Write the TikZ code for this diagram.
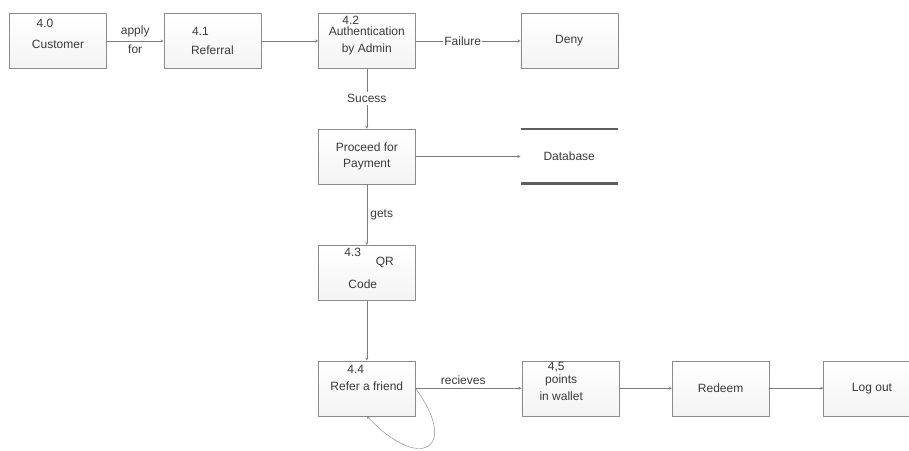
\documentclass[tikz,border=0pt]{standalone}
\usepackage{fontspec}
\setmainfont{Liberation Sans}
\usetikzlibrary{positioning}
\definecolor{boxline}{HTML}{8C8C8C}
\definecolor{txt}{HTML}{3A3A3A}
\definecolor{arr}{HTML}{7C7C7C}
\definecolor{store}{HTML}{5E5E5E}

\begin{document}
\begin{tikzpicture}[x=1pt, y=1pt, ->, >=stealth, color=arr, text=txt, font=\fontsize{12}{16}\selectfont, node distance=57pt,
	box/.style={draw=boxline, rectangle, top color=white, bottom color=gray!9, minimum width=97pt, minimum height=55pt, inner sep=0pt, align=center},
	num/.style={inner sep=0pt, align=center}]

	\useasboundingbox (0,0) rectangle (909,-450);

	% top row
	\node [box] (C) at (58,-41) {};
	\node [box] (R) [right=of C] {};
	\node [box, font=\fontsize{12}{17}\selectfont] (A) [right=of R] {Authentication\\by Admin};
	\node [box] (D) [right=105pt of A] {Deny};

	% middle column
	\node [box] (P) [below=60pt of A] {Proceed for\\Payment};
	\node [minimum width=97pt, minimum height=54pt, inner sep=0pt] (DB) [right=105pt of P] {Database};
	\node [box] (Q) [below=61pt of P] {};
	\node [box] (F) [below=60pt of Q] {};

	% bottom row
	\node [box] (W) [right=106pt of F] {};
	\node [box] (Rd) [right=53pt of W] {Redeem};
	\node [box] (L) [right=54pt of Rd] {Log out};

	% texts in the boxes
	\node [num] (Cn) at ([shift={(-13,18)}]C.center) {4.0};
	\node [num] (Ct) at ([shift={(0,-3)}]C.center) {Customer};
	\node [num] (Rn) at ([shift={(-12,10)}]R.center) {4.1};
	\node [num] (Rt) at ([shift={(0,-9)}]R.center) {Referral};
	\node [num] (An) at ([shift={(-16,21)}]A.center) {4.2};
	\node [num] (Qn) at ([shift={(-14,20)}]Q.center) {4.3};
	\node [num] (Qa) at ([shift={(18,10)}]Q.center) {QR};
	\node [num] (Qb) at ([shift={(-4,-11)}]Q.center) {Code};
	\node [num] (Fn) at ([shift={(-11,19)}]F.center) {4.4};
	\node [num] (Ft) at ([shift={(0,2)}]F.center) {Refer a friend};
	\node [num] (Wn) at ([shift={(-14,21)}]W.center) {4,5};
	\node [num, font=\fontsize{12}{17}\selectfont] (Wt) at ([shift={(-9,0)}]W.center) {points\\in wallet};

	% data store
	\draw [-, line width=2.4pt, store] (DB.north west) -- (DB.north east);
	\draw [-, line width=2.4pt, store] (DB.south west) -- (DB.south east);

	% flows
	\draw (C) -- node[above] {apply} node[below] {for} (R);
	\draw (R) -- (A);
	\draw (A) -- node[pos=0.45, fill=white, inner sep=1pt] {Failure} (D);
	\draw (A) -- node[fill=white, inner sep=2pt] {Sucess} (P);
	\draw (P) -- (DB);
	\draw (P) -- node[right] {gets} (Q);
	\draw (Q) -- (F);
	\draw (F) -- node[pos=0.45, above] {recieves} (W);
	\draw (W) -- (Rd);
	\draw (Rd) -- (L);
	\draw (F.east) .. controls +(45,-62) and +(52,-56) .. (F.south);

\end{tikzpicture}
\end{document}
